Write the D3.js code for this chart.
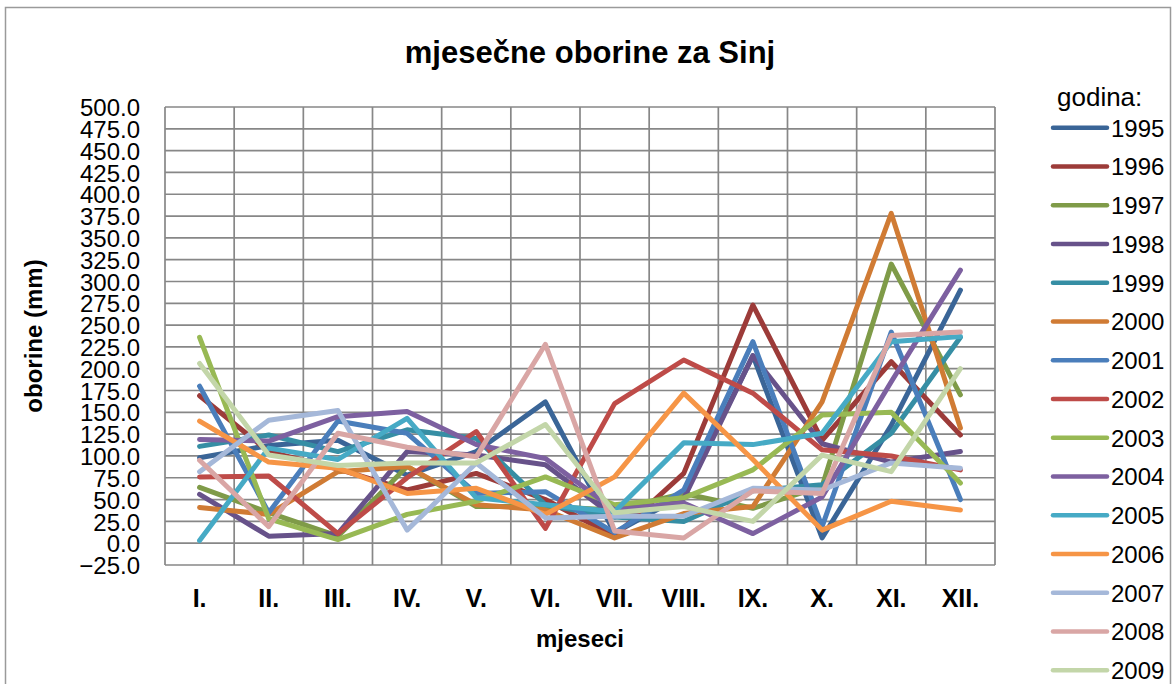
<!DOCTYPE html>
<html>
<head>
<meta charset="utf-8">
<script src="https://cdn.jsdelivr.net/npm/d3@7"></script>
<style>
  body { margin: 0; background: #fff; }
  svg { display: block; }
  .narrow { font-family: 'Liberation Sans Narrow', 'Arial Narrow', 'Liberation Sans', sans-serif; }
  .grid line { stroke: #878787; stroke-width: 1.7; }
</style>
</head>
<body>
<svg id="chart" width="1176" height="684"></svg>
<script>
const months = ['I.', 'II.', 'III.', 'IV.', 'V.', 'VI.', 'VII.', 'VIII.', 'IX.', 'X.', 'XI.', 'XII.'];
const years = ['1995', '1996', '1997', '1998', '1999', '2000', '2001', '2002', '2003', '2004', '2005', '2006', '2007', '2008', '2009'];
const colors = ['#3A6597', '#9C3B39', '#7F9B48', '#67528A', '#368EA4', '#D07B34', '#4A7EBB', '#BE4B48',
    '#98B954', '#7D60A0', '#46AAC5', '#F69546', '#A5B8D9', '#D9A6A5', '#C3D6A9'];
const yTicks = d3.range(-25, 501, 25);

// mjesečne oborine (mm), I. - XII.
const v1995 = [98, 112, 118, 78, 105, 162, 12, 55, 215, 6, 135, 290];
const v1996 = [169, 105, 85, 61, 80, 50, 8, 80, 273, 118, 208, 124];
const v1997 = [64, 35, 8, 88, 42, 42, 38, 57, 40, 65, 320, 170];
const v1998 = [56, 8, 11, 105, 101, 90, 30, 51, 215, 114, 93, 105];
const v1999 = [111, 124, 105, 130, 120, 44, 30, 25, 60, 67, 126, 236];
const v2000 = [41, 33, 82, 88, 44, 38, 6, 34, 42, 162, 378, 132];
const v2001 = [180, 35, 140, 126, 57, 59, 12, 61, 231, 19, 242, 50];
const v2002 = [76, 77, 11, 75, 128, 17, 160, 210, 172, 107, 100, 84];
const v2003 = [236, 28, 4, 33, 48, 76, 44, 52, 84, 147, 150, 69];
const v2004 = [119, 117, 145, 151, 113, 97, 38, 46, 11, 53, 185, 313];
const v2005 = [3, 109, 96, 143, 52, 44, 36, 115, 113, 126, 231, 237];
const v2006 = [140, 93, 86, 57, 63, 33, 76, 172, 96, 15, 48, 38];
const v2007 = [82, 141, 152, 15, 92, 29, 31, 31, 63, 61, 92, 86];
const v2008 = [95, 19, 126, 110, 99, 228, 14, 6, 60, 57, 238, 242];
const v2009 = [206, 101, 89, 92, 92, 136, 35, 42, 25, 101, 82, 200];

const values = [v1995, v1996, v1997, v1998, v1999, v2000, v2001, v2002, v2003, v2004, v2005, v2006, v2007, v2008, v2009];

const svg = d3.select('#chart');

// outer chart border
svg.append('rect')
    .attr('x', 5.5).attr('y', 7.5)
    .attr('width', 1165).attr('height', 690)
    .attr('fill', 'none')
    .attr('stroke', '#9a9a9a')
    .attr('stroke-width', 1.5);

const plot = {left: 165, top: 107, width: 830, height: 458};

const xScale = d3.scaleBand().domain(months).range([plot.left, plot.left + plot.width]).padding(0);
const yScale = d3.scaleLinear().domain([-25, 500]).range([plot.top + plot.height, plot.top]);

// grid
const grid = svg.append('g').attr('class', 'grid');
grid.selectAll('line.h')
    .data(yTicks)
    .enter().append('line')
    .attr('class', 'h')
    .attr('x1', plot.left).attr('x2', plot.left + plot.width)
    .attr('y1', d => yScale(d)).attr('y2', d => yScale(d));
grid.selectAll('line.v')
    .data(months.concat(['end']))
    .enter().append('line')
    .attr('class', 'v')
    .attr('x1', (d, i) => plot.left + i * xScale.step())
    .attr('x2', (d, i) => plot.left + i * xScale.step())
    .attr('y1', plot.top).attr('y2', plot.top + plot.height);

// y axis labels
const yAxis = svg.append('g')
    .attr('transform', `translate(${plot.left},0)`)
    .call(d3.axisLeft(yScale).tickValues(yTicks).tickFormat(d3.format('.1f')).tickSize(0).tickPadding(25));
yAxis.select('.domain').remove();
yAxis.selectAll('text')
    .attr('class', 'narrow')
    .style('font-size', '24px')
    .attr('fill', '#000')
    .attr('dy', '0.36em');

// x axis labels
const xAxis = svg.append('g')
    .attr('transform', `translate(0,${plot.top + plot.height})`)
    .call(d3.axisBottom(xScale).tickSize(0).tickPadding(24));
xAxis.select('.domain').remove();
xAxis.selectAll('text')
    .attr('class', 'narrow')
    .style('font-size', '25px')
    .style('font-weight', 'bold')
    .attr('fill', '#000');

// lines
const line = d3.line()
    .x((d, i) => xScale(months[i]) + xScale.bandwidth() / 2)
    .y(d => yScale(d));

svg.append('g')
    .selectAll('path')
    .data(values)
    .enter().append('path')
    .attr('d', d => line(d))
    .attr('fill', 'none')
    .attr('stroke', (d, i) => colors[i])
    .attr('stroke-width', 5)
    .attr('stroke-linejoin', 'round')
    .attr('stroke-linecap', 'round');

// title
svg.append('text')
    .attr('x', 590).attr('y', 63)
    .attr('text-anchor', 'middle')
    .style('font-family', "'Liberation Sans', Arial, sans-serif")
    .style('font-size', '31px')
    .style('font-weight', 'bold')
    .text('mjesečne oborine za Sinj');

// axis titles
svg.append('text')
    .attr('x', plot.left + plot.width / 2).attr('y', 647)
    .attr('text-anchor', 'middle')
    .attr('class', 'narrow')
    .style('font-size', '24px')
    .style('font-weight', 'bold')
    .text('mjeseci');

svg.append('text')
    .attr('transform', 'translate(42,336) rotate(-90)')
    .attr('text-anchor', 'middle')
    .attr('class', 'narrow')
    .style('font-size', '24px')
    .style('font-weight', 'bold')
    .text('oborine (mm)');

// legend
const legend = svg.append('g');
legend.append('text')
    .attr('x', 1057).attr('y', 106)
    .attr('class', 'narrow')
    .style('font-size', '26px')
    .text('godina:');

years.forEach((year, i) => {
    const row = legend.append('g')
        .attr('transform', `translate(0,${127.7 + i * 38.75})`);
    row.append('line')
        .attr('x1', 1053).attr('x2', 1107)
        .attr('stroke', colors[i])
        .attr('stroke-width', 4.5)
        .attr('stroke-linecap', 'round');
    row.append('text')
        .attr('x', 1111).attr('y', 9)
        .attr('class', 'narrow')
        .style('font-size', '24px')
        .text(year);
});
</script>
</body>
</html>
